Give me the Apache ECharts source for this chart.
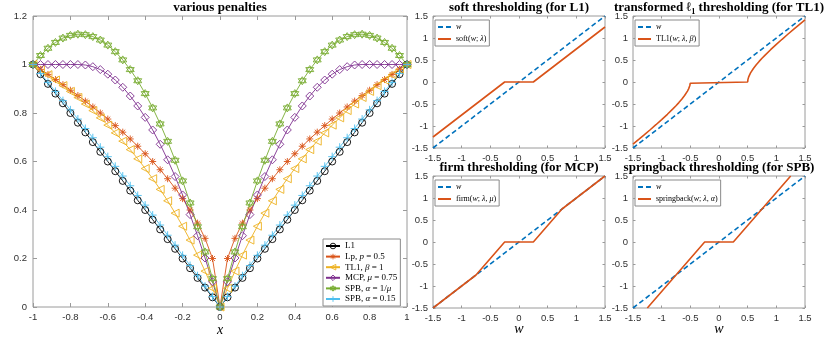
<!DOCTYPE html>
<html><head><meta charset="utf-8">
<script src="https://cdn.jsdelivr.net/npm/echarts@6/dist/echarts.min.js"></script>
<style>html,body{margin:0;padding:0;background:#fff}#c{width:830px;height:338px}</style>
</head><body><div id="c"></div>
<script>
// ---- main panel data (x = -1 : 0.04 : 1) ----
const xs = [-1,-0.96,-0.92,-0.88,-0.84,-0.8,-0.76,-0.72,-0.68,-0.64,-0.6,-0.56,-0.52,-0.48,-0.44,-0.4,-0.36,-0.32,-0.28,-0.24,-0.2,-0.16,-0.12,-0.08,-0.04,0,0.04,0.08,0.12,0.16,0.2,0.24,0.28,0.32,0.36,0.4,0.44,0.48,0.52,0.56,0.6,0.64,0.68,0.72,0.76,0.8,0.84,0.88,0.92,0.96,1];
const penL1 = [1,0.96,0.92,0.88,0.84,0.8,0.76,0.72,0.68,0.64,0.6,0.56,0.52,0.48,0.44,0.4,0.36,0.32,0.28,0.24,0.2,0.16,0.12,0.08,0.04,0,0.04,0.08,0.12,0.16,0.2,0.24,0.28,0.32,0.36,0.4,0.44,0.48,0.52,0.56,0.6,0.64,0.68,0.72,0.76,0.8,0.84,0.88,0.92,0.96,1];
const penLp = [1.000,0.980,0.959,0.938,0.917,0.894,0.872,0.849,0.825,0.800,0.775,0.748,0.721,0.693,0.663,0.632,0.600,0.566,0.529,0.490,0.447,0.400,0.346,0.283,0.200,0.000,0.200,0.283,0.346,0.400,0.447,0.490,0.529,0.566,0.600,0.632,0.663,0.693,0.721,0.748,0.775,0.800,0.825,0.849,0.872,0.894,0.917,0.938,0.959,0.980,1.000];
const penTL1 = [1.000,0.980,0.958,0.936,0.913,0.889,0.864,0.837,0.810,0.780,0.750,0.718,0.684,0.649,0.611,0.571,0.529,0.485,0.438,0.387,0.333,0.276,0.214,0.148,0.077,0.000,0.077,0.148,0.214,0.276,0.333,0.387,0.438,0.485,0.529,0.571,0.611,0.649,0.684,0.718,0.750,0.780,0.810,0.837,0.864,0.889,0.913,0.936,0.958,0.980,1.000];
const penMCP = [1,1,1,1,1,1,1,0.998,0.991,0.979,0.960,0.936,0.906,0.870,0.829,0.782,0.730,0.671,0.607,0.538,0.462,0.381,0.294,0.202,0.104,0.000,0.104,0.202,0.294,0.381,0.462,0.538,0.607,0.671,0.730,0.782,0.829,0.870,0.906,0.936,0.960,0.979,0.991,0.998,1,1,1,1,1,1,1];
const penSPB1 = [1.000,1.037,1.067,1.091,1.109,1.120,1.125,1.123,1.115,1.101,1.080,1.053,1.019,0.979,0.933,0.880,0.821,0.755,0.683,0.605,0.520,0.429,0.331,0.227,0.117,0.000,0.117,0.227,0.331,0.429,0.520,0.605,0.683,0.755,0.821,0.880,0.933,0.979,1.019,1.053,1.080,1.101,1.115,1.123,1.125,1.120,1.109,1.091,1.067,1.037,1.000];
const penSPB2 = [1.000,0.963,0.926,0.889,0.851,0.813,0.775,0.736,0.698,0.659,0.620,0.580,0.540,0.500,0.460,0.420,0.379,0.338,0.296,0.255,0.213,0.171,0.129,0.086,0.043,0.000,0.043,0.086,0.129,0.171,0.213,0.255,0.296,0.338,0.379,0.420,0.460,0.500,0.540,0.580,0.620,0.659,0.698,0.736,0.775,0.813,0.851,0.889,0.926,0.963,1.000];

// ---- thresholding panels ----
const idW = [-1.5, 1.5];
const idY = [-1.5, 1.5];
const softW = [-1.5,-0.25,0.25,1.5];
const softY = [-1.25,0,0,1.25];
const tl1W = [-1.5,-1.4,-1.3,-1.2,-1.1,-1.0,-0.9,-0.8,-0.75,-0.7,-0.65,-0.6,-0.55,-0.53,-0.52,-0.51,-0.505,-0.501,-0.5,0.5,0.501,0.505,0.51,0.52,0.53,0.55,0.6,0.65,0.7,0.75,0.8,0.9,1.0,1.1,1.2,1.3,1.4,1.5];
const tl1Y = [-1.414,-1.306,-1.196,-1.085,-0.971,-0.855,-0.734,-0.606,-0.539,-0.468,-0.392,-0.308,-0.207,-0.156,-0.124,-0.085,-0.060,-0.027,0,0,0.027,0.060,0.085,0.124,0.156,0.207,0.308,0.392,0.468,0.539,0.606,0.734,0.855,0.971,1.085,1.196,1.306,1.414];
const firmW = [-1.5,-0.75,-0.25,0.25,0.75,1.5];
const firmY = [-1.5,-0.75,0,0,0.75,1.5];
const sbW = [-1.25,-0.25,0.25,1.25];
const sbY = [-1.5,0,0,1.5];

const C = {blue:'#0072BD', orange:'#D95319', yellow:'#EDB120', purple:'#7E2F8E', green:'#77AC30', cyan:'#4DBEEE', black:'#000000'};
const AX = '#9a9a9a', LBL = '#303030';
const SANS = '"Liberation Sans", Arial, sans-serif';
const SERIF = '"Liberation Serif", "DejaVu Serif", serif';

const grids = [
  {left:33, top:16, width:374, height:291},
  {left:433, top:16, width:172, height:132},
  {left:633, top:16, width:172, height:132},
  {left:433, top:176, width:172, height:132},
  {left:633, top:176, width:172, height:132}
].map(g => Object.assign({show:true, borderColor:AX, borderWidth:1, backgroundColor:'#fff'}, g));

const fmt = v => String(Math.round(v*10)/10);
const xAxes = [], yAxes = [];
grids.forEach((g, i) => {
  const main = i === 0;
  const tl = main ? 4 : 2.5;
  const xr = main ? {min:-1, max:1, interval:0.2} : {min:-1.5, max:1.5, interval:0.5};
  const yr = main ? {min:0, max:1.2, interval:0.2} : {min:-1.5, max:1.5, interval:0.5};
  const tick = {show:true, inside:true, length:tl, lineStyle:{color:AX, width:1}};
  const line = {show:false, onZero:false};
  const lab = {show:true, color:LBL, fontFamily:SANS, fontSize:9.5, formatter:fmt};
  xAxes.push(Object.assign({type:'value', gridIndex:i, position:'bottom', axisLine:line, splitLine:{show:false}, axisTick:tick, axisLabel:Object.assign({margin:5}, lab)}, xr));
  xAxes.push(Object.assign({type:'value', gridIndex:i, position:'top', axisLine:line, splitLine:{show:false}, axisTick:tick, axisLabel:{show:false}}, xr));
  yAxes.push(Object.assign({type:'value', gridIndex:i, position:'left', axisLine:line, splitLine:{show:false}, axisTick:tick, axisLabel:Object.assign({margin:main?6:5}, lab)}, yr));
  yAxes.push(Object.assign({type:'value', gridIndex:i, position:'right', axisLine:line, splitLine:{show:false}, axisTick:tick, axisLabel:{show:false}}, yr));
});

const SYM = {
  star: 'path://M5,0L5,10M0,5L10,5M1.5,1.5L8.5,8.5M1.5,8.5L8.5,1.5',
  plus: 'path://M5,0L5,10M0,5L10,5',
  hex: 'path://M5,0L9.33,7.5L0.67,7.5ZM5,10L9.33,2.5L0.67,2.5Z',
  ltri: 'path://M0,5L10,0L10,10Z'
};
function pen(name, arr, color, symbol, size) {
  return {
    name, type:'line', xAxisIndex:0, yAxisIndex:0,
    data: xs.map((x, k) => [x, arr[k]]),
    symbol, symbolSize:size, showSymbol:true,
    lineStyle:{color, width:0.9},
    itemStyle:{color:'rgba(0,0,0,0)', borderColor:color, borderWidth:0.9},
    emphasis:{disabled:true}, animation:false
  };
}
function thr(name, ws, ys, g, color, dashed) {
  return {
    name, type:'line', xAxisIndex:2*g, yAxisIndex:2*g,
    data: ws.map((w, k) => [w, ys[k]]),
    symbol:'none', showSymbol:false,
    lineStyle:{color, width:1.6, type: dashed ? [5,3] : 'solid'},
    itemStyle:{color},
    emphasis:{disabled:true}, animation:false
  };
}

const series = [
  pen('L1', penL1, C.black, 'circle', 7),
  pen('Lp', penLp, C.orange, SYM.star, 7),
  pen('TL1', penTL1, C.yellow, SYM.ltri, 8),
  pen('MCP', penMCP, C.purple, 'diamond', 8),
  pen('SPB1', penSPB1, C.green, SYM.hex, 8),
  pen('SPB2', penSPB2, C.cyan, SYM.plus, 8),
  thr('w', idW, idY, 1, C.blue, true),
  thr('soft', softW, softY, 1, C.orange, false),
  thr('w', idW, idY, 2, C.blue, true),
  thr('TL1t', tl1W, tl1Y, 2, C.orange, false),
  thr('w', idW, idY, 3, C.blue, true),
  thr('firm', firmW, firmY, 3, C.orange, false),
  thr('w', idW, idY, 4, C.blue, true),
  thr('springback', sbW, sbY, 4, C.orange, false)
];
series.forEach(s => { if (s.name === 'w') s.z = 3; });

const legendText = {
  L1:'{n|L1}',
  Lp:'{n|Lp, }{i|p}{n| = 0.5}',
  TL1:'{n|TL1, }{i|β}{n| = 1}',
  MCP:'{n|MCP, }{i|μ}{n| = 0.75}',
  SPB1:'{n|SPB, }{i|α}{n| = 1/}{i|μ}',
  SPB2:'{n|SPB, }{i|α}{n| = 0.15}',
  w:'{i|w}',
  soft:'{n|soft(}{i|w}{n|; }{i|λ}{n|)}',
  TL1t:'{n|TL1(}{i|w}{n|; }{i|λ}{n|, }{i|β}{n|)}',
  firm:'{n|firm(}{i|w}{n|; }{i|λ}{n|, }{i|μ}{n|)}',
  springback:'{n|springback(}{i|w}{n|; }{i|λ}{n|, }{i|α}{n|)}'
};
function mkLegend(data, left, top, fs, lh, gap, iw, itemStyle) {
  return {
    show:true, orient:'vertical', left, top, data, selectedMode:false,
    formatter: n => legendText[n],
    itemWidth:iw, itemHeight:7, itemGap:gap,
    itemStyle,
    padding:[2,3,2,2], borderColor:'#8a8a8a', borderWidth:1, backgroundColor:'#fff',
    textStyle:{color:'#000', fontFamily:SERIF, fontSize:fs, lineHeight:lh,
      rich:{n:{fontFamily:SERIF, fontSize:fs, lineHeight:lh, color:'#000'},
            i:{fontFamily:SERIF, fontSize:fs, lineHeight:lh, fontStyle:'italic', color:'#000'}}}
  };
}
const hollow = {color:'rgba(0,0,0,0)', borderColor:'inherit', borderWidth:0.9};
const noSym = {opacity:0};
const legends = [
  mkLegend(['L1','Lp','TL1','MCP','SPB1','SPB2'], 323, 239, 9, 10, 0.6, 14, hollow),
  mkLegend(['w','soft'], 435, 20, 8, 10, 2, 13, noSym),
  mkLegend(['w','TL1t'], 635, 20, 8, 10, 2, 13, noSym),
  mkLegend(['w','firm'], 435, 180, 8, 10, 2, 13, noSym),
  mkLegend(['w','springback'], 635, 180, 8, 10, 2, 13, noSym)
];

function txt(text, x, y, font) {
  return {type:'text', x, y, silent:true, z:100,
    style:{text, font, fill:'#000', textAlign:'center', textVerticalAlign:'middle'}};
}
const TF = 'bold 13px ' + SERIF;
const graphic = [
  txt('various penalties', 220, 8, TF),
  txt('soft thresholding (for L1)', 519, 8, TF),
  txt('transformed ℓ₁ thresholding (for TL1)', 719, 8, TF),
  txt('firm thresholding (for MCP)', 519, 168, TF),
  txt('springback thresholding (for SPB)', 719, 168, TF),
  txt('x', 220, 330, 'italic 14px ' + SERIF),
  txt('w', 519, 329, 'italic 14px ' + SERIF),
  txt('w', 719, 329, 'italic 14px ' + SERIF)
];

const chart = echarts.init(document.getElementById('c'), null, {renderer:'canvas'});
chart.setOption({
  animation:false, backgroundColor:'#fff',
  grid:grids, xAxis:xAxes, yAxis:yAxes, series, legend:legends, graphic
});
</script></body></html>
